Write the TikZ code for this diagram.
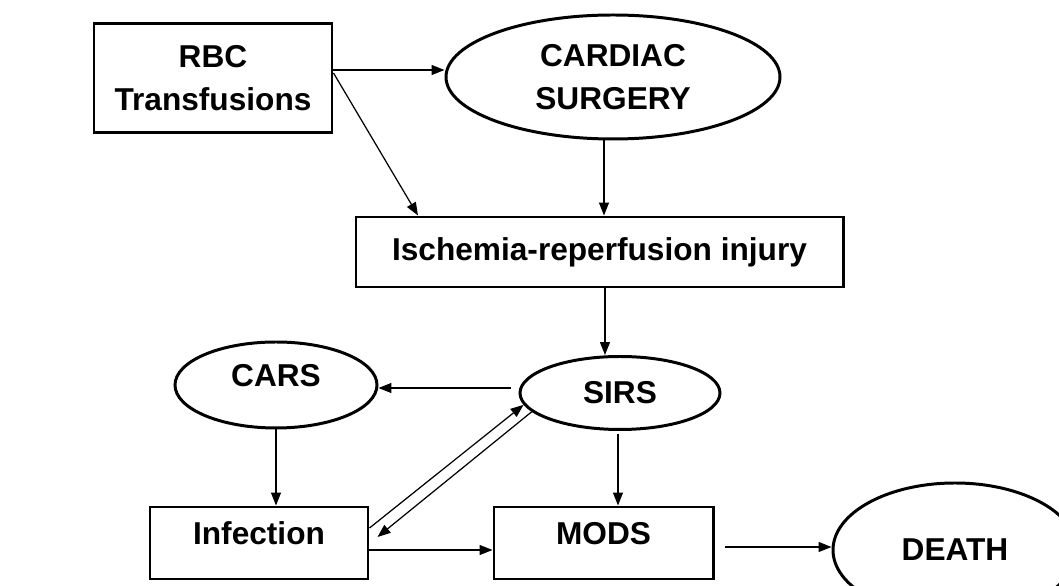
\documentclass[tikz,border=0pt]{standalone}
\usepackage{fontspec}
\setmainfont{Liberation Sans}
\usetikzlibrary{shapes.geometric,arrows.meta}
\tikzset{
  box/.style={draw,line width=1.7pt,inner sep=0pt,align=center},
  oval/.style={ellipse,draw,line width=1.7pt,inner sep=0pt,align=center},
  arr/.style={line width=0.7pt,-{Triangle[length=0.26cm,width=0.2cm]}},
  raised/.style={text depth=0.4cm}
}

\begin{document}
\begin{tikzpicture}[font=\fontsize{18}{24.5}\selectfont\bfseries]
            \useasboundingbox (0,0) rectangle (21.18,11.72);
            \clip (0,0) rectangle (21.18,11.72);

            % top row
            \node[box,minimum width=4.76cm,minimum height=2.18cm] (rbc) at (4.26,10.15) {RBC\\Transfusions};
            \node[oval,minimum width=6.68cm,minimum height=2.48cm] (cardiac) at (12.26,10.18) {CARDIAC\\SURGERY};
            \node[box,minimum width=9.74cm,minimum height=1.4cm] (isch) at (11.99,6.68) {Ischemia-reperfusion injury};

            % middle and bottom
            \node[oval,minimum width=4.0cm,minimum height=1.46cm] (sirs) at (12.4,3.86) {SIRS};
            \node[oval,raised,minimum width=4.04cm,minimum height=1.72cm] (cars) at (5.52,4.02) {CARS};
            \node[box,raised,minimum width=4.36cm,minimum height=1.44cm] (infect) at (5.18,0.86) {Infection};
            \node[box,raised,minimum width=4.38cm,minimum height=1.44cm] (mods) at (12.07,0.86) {MODS};
            \node[oval,minimum width=4.88cm,minimum height=2.68cm] (death) at (19.1,0.72) {DEATH};

            \draw [arr] ([yshift=0.17cm]rbc.east) -- ([yshift=0.17cm]rbc.east -| cardiac.west);
            \draw [arr] ([yshift=0.11cm]rbc.east) -- ([xshift=-3.63cm]isch.north);
            \draw [arr] ([xshift=-0.18cm]cardiac.south) -- ([xshift=-0.18cm]cardiac.south |- isch.north);
            \draw [arr] ([xshift=0.11cm]isch.south) -- ([xshift=0.11cm]isch.south |- sirs.north);
            \draw [arr] ([xshift=-0.16cm,yshift=0.1cm]sirs.west) -- ([yshift=0.1cm]sirs.west -| cars.east);
            \draw [arr] (cars.south) -- (cars.south |- infect.north);
            \draw [arr] ([yshift=0.3cm]infect.east) -- (sirs.187);
            \draw [arr] (sirs.192) -- ([xshift=0.16cm,yshift=0.12cm]infect.east);
            \draw [arr] ([yshift=-0.14cm]infect.east) -- ([yshift=-0.14cm]infect.east -| mods.west);
            \draw [arr] ([xshift=-0.04cm,yshift=-0.06cm]sirs.south) -- ([xshift=-0.04cm]sirs.south |- mods.north);
            \draw [arr] ([xshift=0.2cm,yshift=-0.08cm]mods.east) -- ([yshift=-0.08cm]mods.east -| death.west);
        \end{tikzpicture}
\end{document}
